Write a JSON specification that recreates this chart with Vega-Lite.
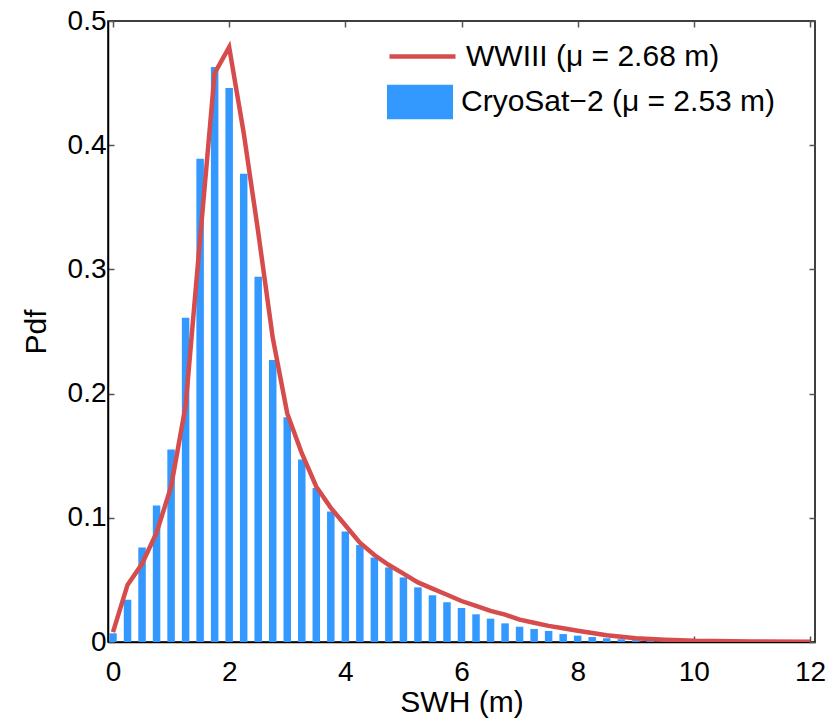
{
  "$schema": "https://vega.github.io/schema/vega-lite/v6.json",
  "width": 707,
  "height": 621,
  "autosize": {"type": "none"},
  "padding": {"left": 108, "top": 21, "right": 22, "bottom": 83},
  "background": "white",
  "config": {
    "font": "Liberation Sans",
    "view": {"stroke": "black", "strokeWidth": 1.5},
    "axis": {"grid": false, "domainColor": "black", "domainWidth": 1.5, "tickColor": "#555555", "tickWidth": 1.5, "tickSize": -6, "labelColor": "black", "labelFontSize": 28, "titleFontSize": 30, "titleFontWeight": "normal", "titleColor": "black", "labelFont": "Liberation Sans", "titleFont": "Liberation Sans"}
  },
  "datasets": {
    "cryosat": [
      {"swh": 0.0, "pdf": 0.007}, {"swh": 0.25, "pdf": 0.034}, {"swh": 0.5, "pdf": 0.076}, {"swh": 0.75, "pdf": 0.110},
      {"swh": 1.0, "pdf": 0.155}, {"swh": 1.25, "pdf": 0.261}, {"swh": 1.5, "pdf": 0.389}, {"swh": 1.75, "pdf": 0.463},
      {"swh": 2.0, "pdf": 0.446}, {"swh": 2.25, "pdf": 0.377}, {"swh": 2.5, "pdf": 0.294}, {"swh": 2.75, "pdf": 0.227},
      {"swh": 3.0, "pdf": 0.181}, {"swh": 3.25, "pdf": 0.147}, {"swh": 3.5, "pdf": 0.124}, {"swh": 3.75, "pdf": 0.105},
      {"swh": 4.0, "pdf": 0.089}, {"swh": 4.25, "pdf": 0.078}, {"swh": 4.5, "pdf": 0.068}, {"swh": 4.75, "pdf": 0.060},
      {"swh": 5.0, "pdf": 0.052}, {"swh": 5.25, "pdf": 0.044}, {"swh": 5.5, "pdf": 0.0376}, {"swh": 5.75, "pdf": 0.032},
      {"swh": 6.0, "pdf": 0.0274}, {"swh": 6.25, "pdf": 0.0223}, {"swh": 6.5, "pdf": 0.0188}, {"swh": 6.75, "pdf": 0.015},
      {"swh": 7.0, "pdf": 0.0123}, {"swh": 7.25, "pdf": 0.0105}, {"swh": 7.5, "pdf": 0.0089}, {"swh": 7.75, "pdf": 0.0064},
      {"swh": 8.0, "pdf": 0.0051}, {"swh": 8.25, "pdf": 0.004}, {"swh": 8.5, "pdf": 0.003}, {"swh": 8.75, "pdf": 0.0022},
      {"swh": 9.0, "pdf": 0.0015}, {"swh": 9.25, "pdf": 0.001}, {"swh": 9.5, "pdf": 0.0007}, {"swh": 9.75, "pdf": 0.0004}
    ],
    "wwiii": [
      {"swh": 0.0, "pdf": 0.008}, {"swh": 0.25, "pdf": 0.046}, {"swh": 0.5, "pdf": 0.063}, {"swh": 0.75, "pdf": 0.088},
      {"swh": 1.0, "pdf": 0.125}, {"swh": 1.25, "pdf": 0.19}, {"swh": 1.5, "pdf": 0.325}, {"swh": 1.75, "pdf": 0.458},
      {"swh": 2.0, "pdf": 0.479}, {"swh": 2.25, "pdf": 0.41}, {"swh": 2.5, "pdf": 0.33}, {"swh": 2.75, "pdf": 0.245},
      {"swh": 3.0, "pdf": 0.184}, {"swh": 3.25, "pdf": 0.152}, {"swh": 3.5, "pdf": 0.125}, {"swh": 3.75, "pdf": 0.108},
      {"swh": 4.0, "pdf": 0.094}, {"swh": 4.25, "pdf": 0.080}, {"swh": 4.5, "pdf": 0.070}, {"swh": 4.75, "pdf": 0.062},
      {"swh": 5.0, "pdf": 0.055}, {"swh": 5.25, "pdf": 0.048}, {"swh": 5.5, "pdf": 0.043}, {"swh": 5.75, "pdf": 0.038},
      {"swh": 6.0, "pdf": 0.033}, {"swh": 6.25, "pdf": 0.029}, {"swh": 6.5, "pdf": 0.025}, {"swh": 6.75, "pdf": 0.022},
      {"swh": 7.0, "pdf": 0.018}, {"swh": 7.25, "pdf": 0.0155}, {"swh": 7.5, "pdf": 0.013}, {"swh": 7.75, "pdf": 0.011},
      {"swh": 8.0, "pdf": 0.009}, {"swh": 8.5, "pdf": 0.0055}, {"swh": 9.0, "pdf": 0.003}, {"swh": 9.5, "pdf": 0.0018},
      {"swh": 10.0, "pdf": 0.001}, {"swh": 11.0, "pdf": 0.0005}, {"swh": 12.0, "pdf": 0.0003}
    ]
  },
  "layer": [
    {
      "data": {"name": "cryosat"},
      "mark": {"type": "bar", "size": 7.5, "clip": false},
      "encoding": {
        "x": {"field": "swh", "type": "quantitative", "scale": {"domain": [0, 12], "nice": false, "zero": false},
              "axis": {"orient": "bottom", "title": "SWH (m)", "values": [0, 2, 4, 6, 8, 10, 12], "labelPadding": 22, "titlePadding": 1}},
        "y": {"field": "pdf", "type": "quantitative", "scale": {"domain": [0, 0.5], "nice": false},
              "axis": {"orient": "left", "title": "Pdf", "values": [0, 0.1, 0.2, 0.3, 0.4, 0.5], "labelPadding": 8, "titlePadding": 16, "format": "~g"}},
        "fill": {"datum": "CryoSat\u22122 (\u03bc = 2.53 m)", "type": "nominal",
                 "scale": {"range": ["#3399ff"]},
                 "legend": {"title": null, "orient": "none", "legendX": 279, "legendY": 48, "symbolType": "M-1,-0.52H1V0.52H-1Z", "symbolSize": 4356, "symbolStrokeWidth": 0, "symbolOpacity": 1, "labelFontSize": 30, "labelLimit": 0, "labelColor": "black", "labelOffset": 8, "labelFont": "Liberation Sans"}}
      }
    },
    {
      "data": {"name": "wwiii"},
      "mark": {"type": "line", "strokeWidth": 4.5, "clip": true},
      "encoding": {
        "x": {"field": "swh", "type": "quantitative", "axis": {"orient": "top", "labels": false, "title": null, "domain": false, "values": [0, 2, 4, 6, 8, 10, 12]}},
        "y": {"field": "pdf", "type": "quantitative", "axis": {"orient": "right", "labels": false, "title": null, "domain": false, "values": [0, 0.1, 0.2, 0.3, 0.4, 0.5]}},
        "stroke": {"datum": "WWIII (\u03bc = 2.68 m)", "type": "nominal",
                   "scale": {"range": ["#d64b4b"]},
                   "legend": {"title": null, "orient": "none", "legendX": 279, "legendY": 0, "symbolType": "stroke", "symbolSize": 4356, "symbolStrokeWidth": 4.5, "labelFontSize": 30, "labelLimit": 0, "labelColor": "black", "labelOffset": 8, "labelFont": "Liberation Sans"}}
      }
    }
  ],
  "resolve": {"axis": {"x": "independent", "y": "independent"}, "scale": {"fill": "independent", "stroke": "independent"}}
}
